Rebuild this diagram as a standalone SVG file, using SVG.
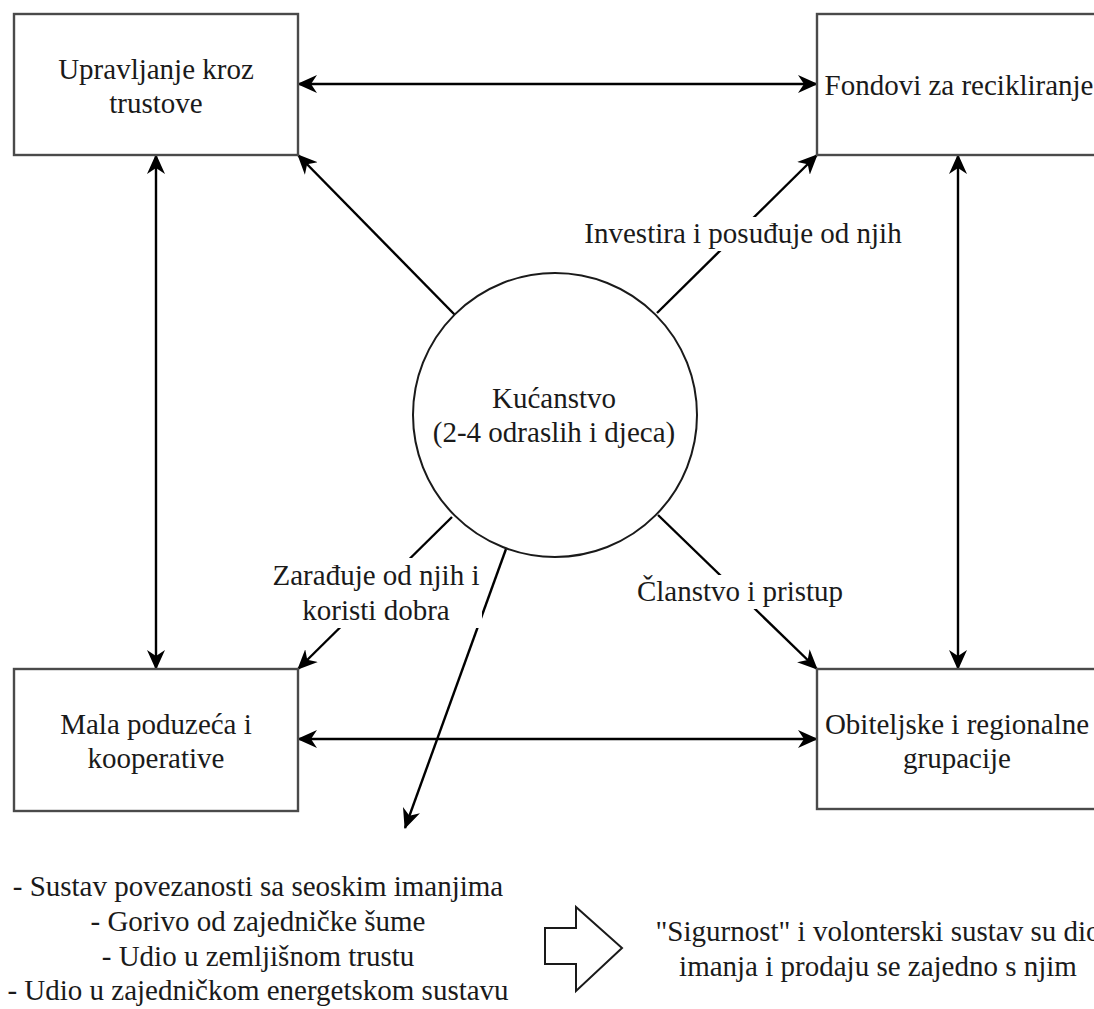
<svg xmlns="http://www.w3.org/2000/svg" width="1094" height="1009" viewBox="0 0 1094 1009">
<style>
.box{fill:#fff;stroke:#4a4a4a;stroke-width:2.4}
.circ{fill:#fff;stroke:#1a1a1a;stroke-width:2}
text{font-family:'Liberation Serif','Tinos','Times New Roman','DejaVu Serif',serif;font-size:29px;fill:#1a1a1a;text-anchor:middle}
.e{stroke:#000;stroke-width:2.4;fill:none}
.lbg{fill:#fff}
</style>
<defs>
<marker id="ah" viewBox="0 0 20 20" markerWidth="20" markerHeight="20" refX="19" refY="10" orient="auto-start-reverse" markerUnits="userSpaceOnUse">
<path d="M0,1 L20,10 L0,19 L6,10 Z" fill="#000"/>
</marker>
</defs>
<rect width="1094" height="1009" fill="#fff"/>

<g id="connectors">
<line class="e" x1="298" y1="84" x2="817" y2="84" marker-start="url(#ah)" marker-end="url(#ah)"/>
<line class="e" x1="298" y1="739" x2="817" y2="739" marker-start="url(#ah)" marker-end="url(#ah)"/>
<line class="e" x1="156" y1="155" x2="156" y2="669" marker-start="url(#ah)" marker-end="url(#ah)"/>
<line class="e" x1="958" y1="155" x2="958" y2="669" marker-start="url(#ah)" marker-end="url(#ah)"/>
<line class="e" x1="455" y1="315" x2="298" y2="155" marker-end="url(#ah)"/>
<line class="e" x1="657" y1="313" x2="817" y2="155" marker-end="url(#ah)"/>
<line class="e" x1="452" y1="517" x2="298" y2="669" marker-end="url(#ah)"/>
<line class="e" x1="658" y1="515" x2="817" y2="669" marker-end="url(#ah)"/>
<line class="e" x1="506" y1="549" x2="405" y2="828" marker-end="url(#ah)"/>
<g id="edge-labels">
<rect class="lbg" x="583" y="217" width="322" height="34"/>
<text font-family="Liberation Serif, serif" x="743" y="243">Investira i posuđuje od njih</text>
<rect class="lbg" x="270" y="558" width="212" height="70"/>
<text font-family="Liberation Serif, serif" x="376" y="585">Zarađuje od njih i</text>
<text font-family="Liberation Serif, serif" x="376" y="620">koristi dobra</text>
<rect class="lbg" x="635" y="575" width="210" height="34"/>
<text font-family="Liberation Serif, serif" x="740" y="601">Članstvo i pristup</text>
</g>
</g>

<g id="node-trusts">
<rect class="box" x="14" y="14" width="284" height="141"/>
<text x="156" y="79">Upravljanje kroz</text>
<text x="156" y="113">trustove</text>
</g>

<g id="node-funds">
<rect class="box" x="817" y="14" width="284" height="141"/>
<text x="959" y="95">Fondovi za recikliranje</text>
</g>

<g id="node-small-business">
<rect class="box" x="14" y="669" width="284" height="142"/>
<text x="156" y="734">Mala poduzeća i</text>
<text x="156" y="768">kooperative</text>
</g>

<g id="node-family">
<rect class="box" x="817" y="669" width="284" height="140"/>
<text x="957" y="734">Obiteljske i regionalne</text>
<text x="957" y="768">grupacije</text>
</g>

<g id="node-household">
<circle class="circ" cx="555" cy="415" r="142"/>
<text x="554" y="408">Kućanstvo</text>
<text x="554" y="442">(2-4 odraslih i djeca)</text>
</g>

<g id="node-assets">
<text x="258" y="896">- Sustav povezanosti sa seoskim imanjima</text>
<text x="258" y="931">- Gorivo od zajedničke šume</text>
<text x="258" y="966">- Udio u zemljišnom trustu</text>
<text x="258" y="1000">- Udio u zajedničkom energetskom sustavu</text>
</g>

<g id="node-big-arrow">
<polygon points="545,928 576,928 576,907 622,948 576,991 576,964 545,964" fill="#fff" stroke="#1a1a1a" stroke-width="2"/>
</g>

<g id="node-security">
<text x="878" y="941">"Sigurnost" i volonterski sustav su dio</text>
<text x="878" y="976">imanja i prodaju se zajedno s njim</text>
</g>
</svg>
